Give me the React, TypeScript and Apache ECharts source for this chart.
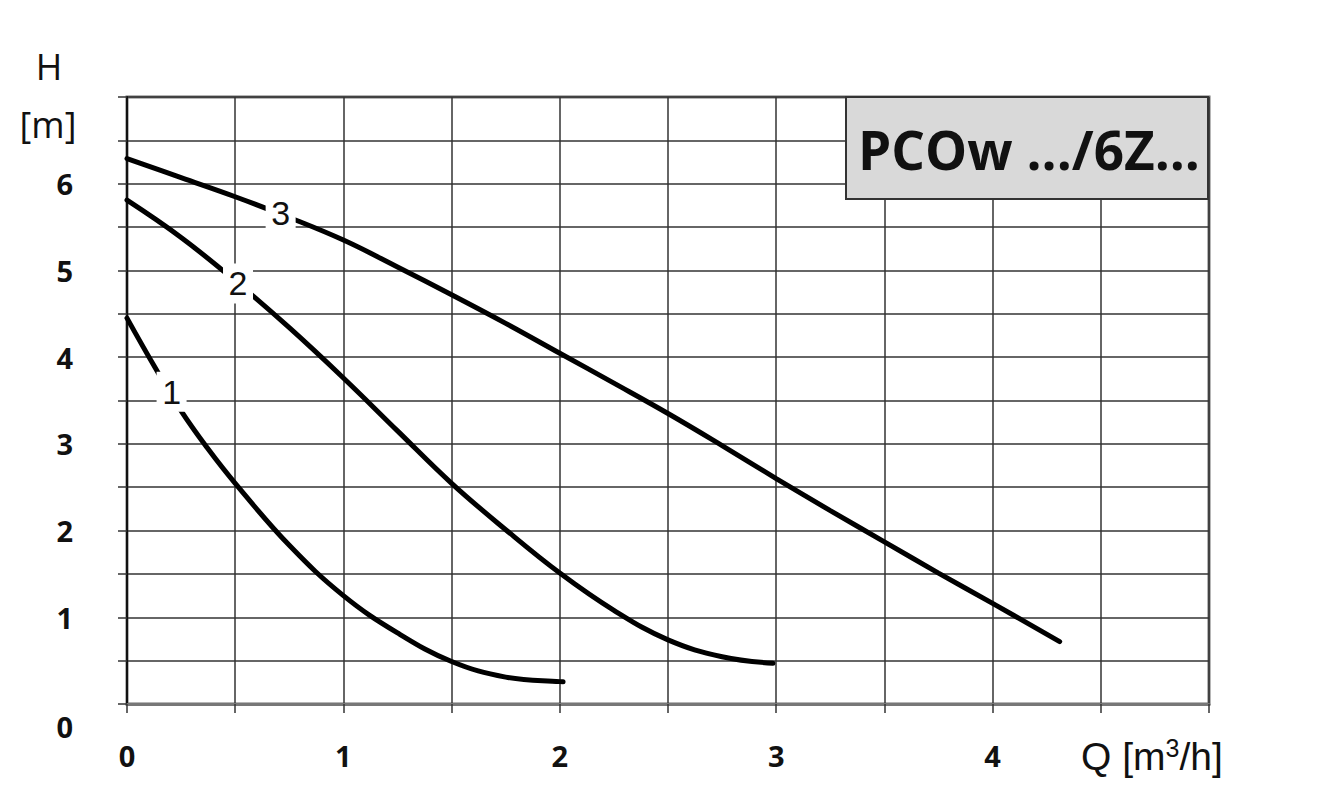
import React, { useEffect, useRef } from "react";
import * as echarts from "echarts";

// Pump curves: Q [m³/h] vs H [m]
const curve1Q = [0, 0.125, 0.25, 0.375, 0.5, 0.75, 1.0, 1.25, 1.5, 1.75, 2.0, 2.015];
const curve1H = [4.45, 3.9, 3.38, 2.94, 2.545, 1.83, 1.25, 0.82, 0.49, 0.31, 0.258, 0.257];

const curve2Q = [0, 0.25, 0.5, 0.75, 1.0, 1.25, 1.5, 1.75, 2.0, 2.25, 2.5, 2.75, 2.985];
const curve2H = [5.81, 5.38, 4.88, 4.34, 3.76, 3.15, 2.545, 2.01, 1.51, 1.08, 0.74, 0.545, 0.47];

const curve3Q = [0, 0.25, 0.5, 0.75, 1.0, 1.25, 1.5, 1.75, 2.0, 2.25, 2.5, 2.75, 3.0, 3.25, 3.5, 3.75, 4.0, 4.31];
const curve3H = [6.29, 6.07, 5.85, 5.61, 5.35, 5.04, 4.72, 4.39, 4.045, 3.7, 3.35, 2.98, 2.6, 2.23, 1.87, 1.51, 1.16, 0.72];

const curveNames = ["1", "2", "3"];
const labelPosQ = [0.206, 0.513, 0.71];
const labelPosH = [3.6, 4.85, 5.66];

const xTickLabels = ["0", "1", "2", "3", "4"];
const yTickLabels = ["1", "2", "3", "4", "5", "6"];

const titleText = "PCOw .../6Z...";

const zip = (q: number[], h: number[]) => q.map((v, i) => [v, h[i]]);

export default function App() {
  const ref = useRef<HTMLDivElement>(null);
  useEffect(() => {
    if (!ref.current) return;
    const chart = echarts.init(ref.current, null, { renderer: "svg" });
    const curves = [zip(curve1Q, curve1H), zip(curve2Q, curve2H), zip(curve3Q, curve3H)];
    const tickFont = {
      fontFamily: "Open Sans",
      fontWeight: "bold" as const,
      fontSize: 29,
      color: "#111",
    };
    chart.setOption({
      animation: false,
      backgroundColor: "#fff",
      grid: {
        left: 127,
        top: 97,
        width: 1082,
        height: 607,
        show: true,
        borderColor: "#6f6f6f",
        borderWidth: 3,
        backgroundColor: "transparent",
      },
      xAxis: {
        type: "value",
        min: 0,
        max: 5,
        interval: 0.5,
        axisLine: { show: true, onZero: false, lineStyle: { color: "#777", width: 3 } },
        axisTick: { show: true, length: 9, lineStyle: { color: "#333", width: 1.5 } },
        splitLine: { show: true, lineStyle: { color: "#333", width: 1.5 } },
        axisLabel: {
          margin: 37,
          ...tickFont,
          formatter: (v: number) => {
            const s = String(v);
            return xTickLabels.includes(s) ? s : "";
          },
        },
      },
      yAxis: {
        type: "value",
        min: 0,
        max: 7,
        interval: 0.5,
        axisLine: { show: true, onZero: false, lineStyle: { color: "#111", width: 2 } },
        axisTick: { show: true, length: 9, lineStyle: { color: "#333", width: 1.5 } },
        splitLine: { show: true, lineStyle: { color: "#333", width: 1.5 } },
        axisLabel: {
          margin: 54,
          ...tickFont,
          formatter: (v: number) => {
            const s = String(v);
            return yTickLabels.includes(s) ? s : "";
          },
        },
      },
      series: curves.map((data, i) => ({
        type: "line",
        data,
        smooth: 0.4,
        symbol: "none",
        lineStyle: { color: "#000", width: 5, cap: "round" },
        z: 3,
        markPoint: {
          symbol: "rect",
          symbolSize: [30, 40],
          itemStyle: { color: "#fff" },
          z: 5,
          data: [
            {
              coord: [labelPosQ[i], labelPosH[i]],
              label: {
                show: true,
                position: "inside",
                formatter: curveNames[i],
                color: "#111",
                fontSize: 34,
                fontFamily: "Liberation Sans",
              },
            },
          ],
        },
      })),
      graphic: [
        {
          type: "rect",
          shape: { x: 846, y: 97, width: 362, height: 102 },
          style: { fill: "#d9d9d9", stroke: "#333", lineWidth: 2 },
          z: 10,
        },
        {
          type: "text",
          x: 1029,
          y: 149,
          style: {
            text: titleText,
            fill: "#111",
            font: "bold 53px 'Open Sans'",
            textAlign: "center",
            textVerticalAlign: "middle",
          },
          z: 11,
        },
        {
          type: "text",
          x: 49,
          y: 66,
          style: {
            text: "H",
            fill: "#111",
            font: "36px 'Open Sans'",
            textAlign: "center",
            textVerticalAlign: "middle",
          },
        },
        {
          type: "text",
          x: 48,
          y: 124,
          style: {
            text: "[m]",
            fill: "#111",
            font: "36px 'Open Sans'",
            textAlign: "center",
            textVerticalAlign: "middle",
          },
        },
        {
          type: "text",
          x: 73,
          y: 726,
          style: {
            text: "0",
            fill: "#111",
            font: "bold 29px 'Open Sans'",
            textAlign: "right",
            textVerticalAlign: "middle",
          },
        },
        {
          type: "text",
          x: 1081,
          y: 756,
          style: {
            text: "{a|Q [m}{s|3}{a|/h]}",
            textAlign: "left",
            textVerticalAlign: "middle",
            rich: {
              a: { fontFamily: "Liberation Sans", fontSize: 39, fill: "#111", color: "#111" },
              s: {
                fontFamily: "Liberation Sans",
                fontSize: 25,
                fill: "#111",
                color: "#111",
                verticalAlign: "top",
                padding: [0, 0, 16, 0],
              },
            },
          },
        },
      ],
    });
    return () => chart.dispose();
  }, []);
  return (
    <div
      ref={ref}
      style={{ position: "absolute", left: 0, top: 0, width: 1319, height: 807 }}
    />
  );
}
